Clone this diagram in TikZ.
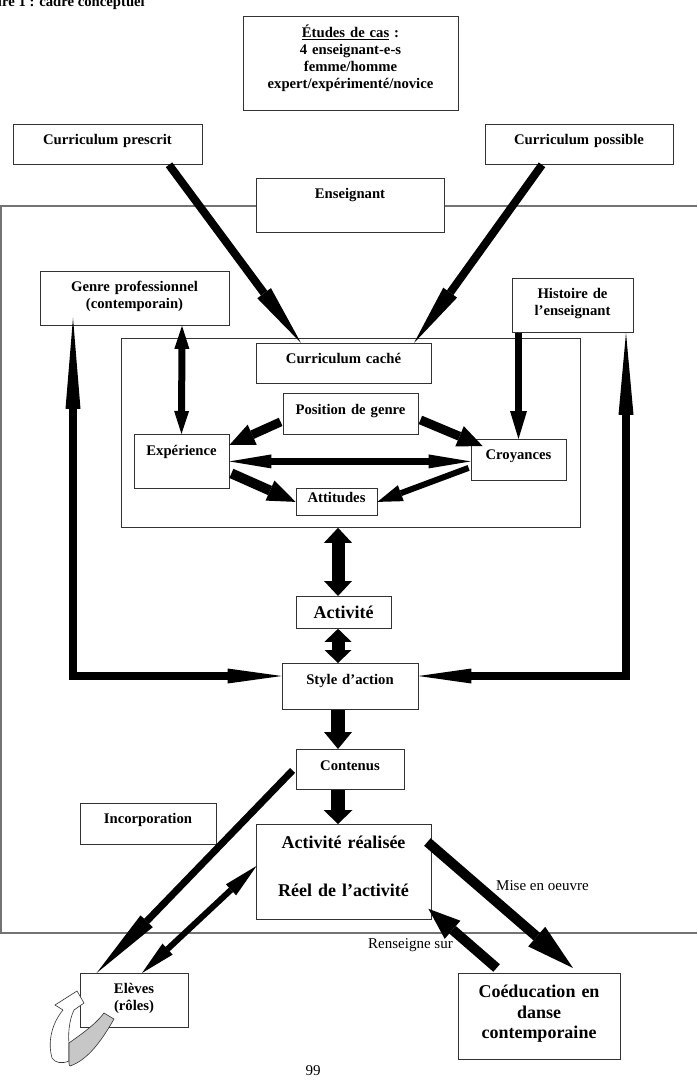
\documentclass[tikz,border=0pt]{standalone}
\usepackage{fontspec}
\setmainfont{Liberation Serif}
\usetikzlibrary{arrows.meta, positioning, calc}

\newcommand{\lblpetit}{\fontsize{14.7}{17}\selectfont\bfseries}
\newcommand{\lblgrand}{\fontsize{18}{20.7}\selectfont\bfseries}
\newcommand{\lbltexte}{\fontsize{15}{17}\selectfont}

\begin{document}
\begin{tikzpicture}[
x=1pt, y=-1pt,
boite/.style={draw=black!80, line width=0.8pt, fill=white, inner sep=0pt, anchor=north, align=center, font=\lblpetit},
taille/.style n args={3}{text width=#1pt, text height=#2pt, text depth=#3pt},
fl/.style n args={3}{line width=#1pt, -{Triangle[length=#2pt, width=#3pt, line width=0pt]}},
dfl/.style n args={3}{line width=#1pt, {Triangle[length=#2pt, width=#3pt, line width=0pt]}-{Triangle[length=#2pt, width=#3pt, line width=0pt]}},
retour/.style={line cap=rect},
cadre/.style={draw=black!55, line width=1.2pt},
legende/.style={inner sep=0pt, font=\lbltexte}
]
\useasboundingbox (0,0) rectangle (697,1091);

% --- Titre (coupé par le bord de la page) ---
\node[legende, font=\lblpetit, anchor=base east] (titre) at (145,7) {Figure 1 : cadre conceptuel};

% --- Cadre de l'enseignant ---
\draw[cadre] (697,206) -- (1,206) -- (1,933) -- (697,933);

% --- Noeuds ---
\node[boite, taille={215}{21}{73}] (etudes) at (350.5,16) {\underline{Études de cas} :\\4 enseignant-e-s\\femme/homme\\expert/expérimenté/novice};
\node[boite, taille={189}{20}{20}] (prescrit) at (107.5,124) {Curriculum prescrit};
\node[boite, taille={188}{20}{20}] (possible) at (579,124) {Curriculum possible};
\node[boite, taille={188}{20}{34}] (enseignant) at (350,178) {Enseignant};
\node[boite, taille={189}{20}{34}] (genre) at (134.5,271) {Genre professionnel\\(contemporain)};
\node[boite, taille={121}{20}{34}] (histoire) at (572.5,278) {Histoire de\\l’enseignant};
\node[boite, taille={459}{0}{189}] (interieur) at (350.5,338) {};
\node[boite, taille={175}{20}{20}] (cache) at (343.5,343) {Curriculum caché};
\node[boite, taille={135}{21}{20}] (position) at (350.5,393) {Position de genre};
\node[boite, taille={95}{21}{33}] (experience) at (181.5,434) {Expérience};
\node[boite, taille={95}{20}{21}] (croyances) at (518.5,439) {Croyances};
\node[boite, taille={81}{14}{13}] (attitudes) at (336.5,488) {Attitudes};
\node[boite, taille={95}{22}{10}, font=\lblgrand] (activite) at (343.5,596) {Activité\hspace*{10pt}};
\node[boite, taille={136}{21}{25}] (style) at (350,663) {Style d’action};
\node[boite, taille={108}{21}{19}] (contenus) at (350,749) {Contenus};
\node[boite, taille={136}{20}{21}] (incorporation) at (148,803) {Incorporation};
\node[boite, taille={175}{24}{71}, font=\lblgrand] (realisee) at (343.5,824) {Activité réalisée\\[27pt]Réel de l’activité};
\node[boite, taille={108}{20}{34}] (eleves) at (134,973) {Elèves\\(rôles)};
\node[boite, taille={162}{24}{62}, font=\lblgrand] (coeducation) at (539,973) {Coéducation en\\danse\\contemporaine};

% --- Flèches du haut ---
\coordinate (axe) at (338,0);
\coordinate (coinG) at (73,676);
\coordinate (coinD) at (626,676);

\draw[fl={8}{62}{17}] ($(prescrit.south)+(61.5,0)$) -- ($(cache.north)+(-42.5,0)$);
\draw[fl={8}{62}{17}] ($(possible.south)+(-37,0)$) -- ($(cache.north)+(70.5,0)$);
\draw[dfl={7}{23}{15}] ($(genre.south)+(47.5,0)$) -- (experience.north);
\draw[fl={7}{28}{17}] (croyances.north |- histoire.south) -- (croyances.north);

% --- Flèches du cadre intérieur ---
\draw[fl={9}{25}{22}] ($(position.west)+(-2,8)$) -- ($(experience.north east)+(0,11)$);
\draw[fl={9}{25}{22}] ($(position.east)+(2,6)$) -- ($(croyances.north west)+(12,7)$);
\draw[dfl={7}{42}{14}] (experience.east) -- (experience.east -| croyances.west);
\draw[fl={10}{28}{22}] ($(experience.east)+(2,12)$) -- (attitudes.west);
\draw[fl={6}{25}{17}] ($(croyances.west)+(-2,8)$) -- (attitudes.east);

% --- Axe central ---
\draw[dfl={13}{15}{28}] (axe |- interieur.south) -- (axe |- activite.north);
\draw[dfl={13}{13}{27}] (axe |- activite.south) -- (axe |- style.north);
\draw[fl={14}{17}{28}] (axe |- style.south) -- (axe |- contenus.north);
\draw[fl={14}{14}{29}] (axe |- contenus.south) -- (axe |- realisee.north);

% --- Boucles de retour ---
\draw[retour, fl={8}{54}{15}] (coinG) -- (coinG -| style.west);
\draw[retour, fl={8}{91}{15}] (coinG) -- ($(coinG |- genre.south)+(0,-8)$);
\draw[retour, fl={8}{53}{15}] (coinD) -- (coinD -| style.east);
\draw[retour, fl={8}{82}{15}] (coinD) -- (coinD |- histoire.south);

% --- Bas : élèves et coéducation ---
\draw[fl={7}{72}{17}] ($(contenus.west)+(-3,1)$) -- ($(eleves.north west)+(17,0)$);
\draw[dfl={6}{35}{15}] ($(realisee.west)+(1,-6)$) -- ($(eleves.north)+(8,0)$);
\draw[fl={10}{48}{26}] ($(realisee.north east)+(-4,18)$) -- ($(coeducation.north)+(34,-5)$);
\draw[fl={10}{32}{24}] ($(coeducation.north west)+(39,-5)$) -- ($(realisee.south east)+(-3,-11)$);

\node[legende, anchor=base west] (mise) at (496,890) {Mise en oeuvre};
\node[legende, anchor=base east] (renseigne) at (453,948) {Renseigne sur};
\node[legende, anchor=base] (page) at (313,1075) {99};

% --- Flèche courbe (rôles) ---
\draw[black!80, line width=0.6pt, fill=white] (52,1058) .. controls (47,1040) and (53,1022) .. (63,1010) -- (55,1005) -- (77,991) -- (84,1003) -- (74,1010) .. controls (69,1020) and (68,1035) .. (69,1043) -- (69,1061) .. controls (62,1064) and (55,1063) .. (52,1058) -- cycle;
\draw[black!80, line width=0.6pt, fill=black!22] (69,1043) .. controls (80,1035) and (95,1025) .. (104,1013) -- (114,1019) .. controls (102,1040) and (88,1060) .. (70,1066) .. controls (69,1065) .. (69,1061) -- cycle;

\end{tikzpicture}
\end{document}
